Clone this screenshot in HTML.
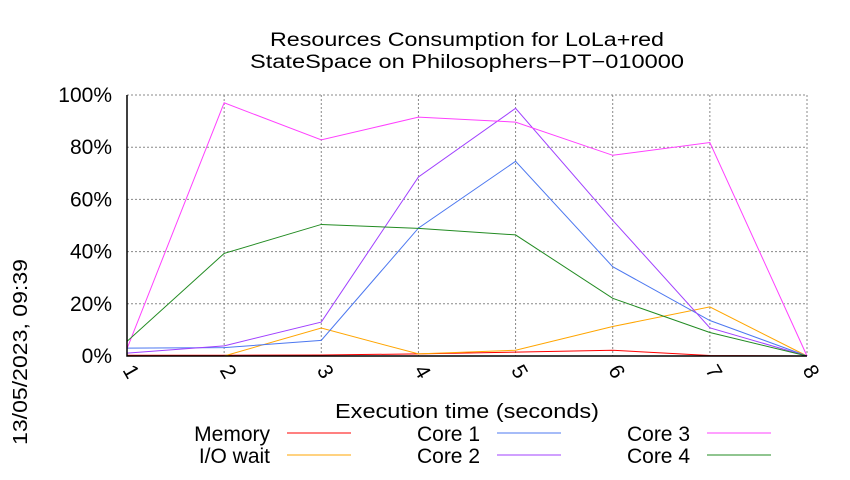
<!DOCTYPE html>
<html><head><meta charset="utf-8"><style>
body{margin:0;background:#fff;}
svg text{font-family:"Liberation Sans",sans-serif;fill:#000;}
</style></head><body>
<svg width="850" height="475" xmlns="http://www.w3.org/2000/svg">
<rect width="850" height="475" fill="#fff"/>
<g id="grid"></g>
<g id="series"></g>
<g id="axes"></g>
<text x="467" y="46" font-size="19" text-anchor="middle" textLength="394" lengthAdjust="spacingAndGlyphs">Resources Consumption for LoLa+red</text>
<text x="467" y="68" font-size="19" text-anchor="middle" textLength="434" lengthAdjust="spacingAndGlyphs">StateSpace on Philosophers−PT−010000</text>
<text x="467" y="418" font-size="20" text-anchor="middle" textLength="264" lengthAdjust="spacingAndGlyphs">Execution time (seconds)</text>
<text transform="translate(27,352) rotate(-90)" font-size="20" text-anchor="middle" textLength="186" lengthAdjust="spacingAndGlyphs">13/05/2023, 09:39</text>
<g id="legend"></g>
</svg>
<script>
const categories=[1,2,3,4,5,6,7,8];
const yTicks=[0,20,40,60,80,100];
const memory=[0.3,0.3,0.4,0.8,1.5,2.2,0.2,0];
const ioWait=[0,0,10.7,0.8,2.2,11.3,18.8,0];
const core1=[3,3.2,6,49,74.6,34.2,13.6,0];
const core2=[1.1,3.9,13,68.6,94.9,52,10.8,0];
const core3=[2.8,97,82.8,91.5,89.6,76.9,81.8,0];
const core4=[5.6,39.3,50.4,48.9,46.4,22.1,9,0];
const seriesNames=["Memory","I/O wait","Core 1","Core 2","Core 3","Core 4"];
const seriesData=[memory,ioWait,core1,core2,core3,core4];
const colors=["#ff0000","#ffa500","#4d78f0","#a040ff","#ff40ff","#228b22"];
const L=127,R=807,T=95,B=356;
const xs=v=>L+(v-1)*(R-L)/7;
const ys=v=>B-v*(B-T)/100;
const NS="http://www.w3.org/2000/svg";
function mk(tag,parent){const e=document.createElementNS(NS,tag);parent.appendChild(e);return e;}
const grid=document.getElementById('grid'),axes=document.getElementById('axes'),ser=document.getElementById('series'),leg=document.getElementById('legend');
yTicks.forEach(t=>{
 const y=ys(t);
 const l=mk('line',grid);l.setAttribute('x1',L);l.setAttribute('x2',R);l.setAttribute('y1',y);l.setAttribute('y2',y);
 l.setAttribute('stroke','#888');l.setAttribute('stroke-dasharray','2,2');l.setAttribute('stroke-width','1');
 
 
 const tx=mk('text',axes);tx.setAttribute('x',L-15);tx.setAttribute('y',y+7);tx.setAttribute('font-size','21');tx.setAttribute('text-anchor','end');tx.textContent=t+'%';
 
 
});
categories.forEach(c=>{
 const x=xs(c);
 const l=mk('line',grid);l.setAttribute('x1',x);l.setAttribute('x2',x);l.setAttribute('y1',T);l.setAttribute('y2',B);
 l.setAttribute('stroke','#888');l.setAttribute('stroke-dasharray','2,2');
 
 
 const tx=mk('text',axes);tx.setAttribute('transform','translate('+(x-2)+','+(B+19)+') rotate(60)');tx.setAttribute('font-size','21');tx.setAttribute('text-anchor','middle');tx.textContent=c;
 
 
});
const fr=mk('path',axes);fr.setAttribute('d','M'+L+' '+T+'V'+B+'H'+R);fr.setAttribute('fill','none');fr.setAttribute('stroke','#000');fr.setAttribute('stroke-width','1.5');


seriesData.forEach((d,i)=>{
 const p=mk('polyline',ser);
 p.setAttribute('points',d.map((v,j)=>xs(categories[j])+','+ys(v)).join(' '));
 p.setAttribute('fill','none');p.setAttribute('stroke',colors[i]);p.setAttribute('stroke-width','1');
 
 
});
const legPos=[[270,441],[270,463],[480,441],[480,463],[690,441],[690,463]];
seriesNames.forEach((n,i)=>{
 const [x,y]=legPos[i];
 const t=mk('text',leg);t.setAttribute('x',x);t.setAttribute('y',y);t.setAttribute('font-size','21');t.setAttribute('text-anchor','end');t.textContent=n;
 
 
 const l=mk('line',leg);l.setAttribute('x1',x+17);l.setAttribute('x2',x+81);l.setAttribute('y1',y-8);l.setAttribute('y2',y-8);l.setAttribute('stroke',colors[i]);
 
 
});
</script>
</body></html>
